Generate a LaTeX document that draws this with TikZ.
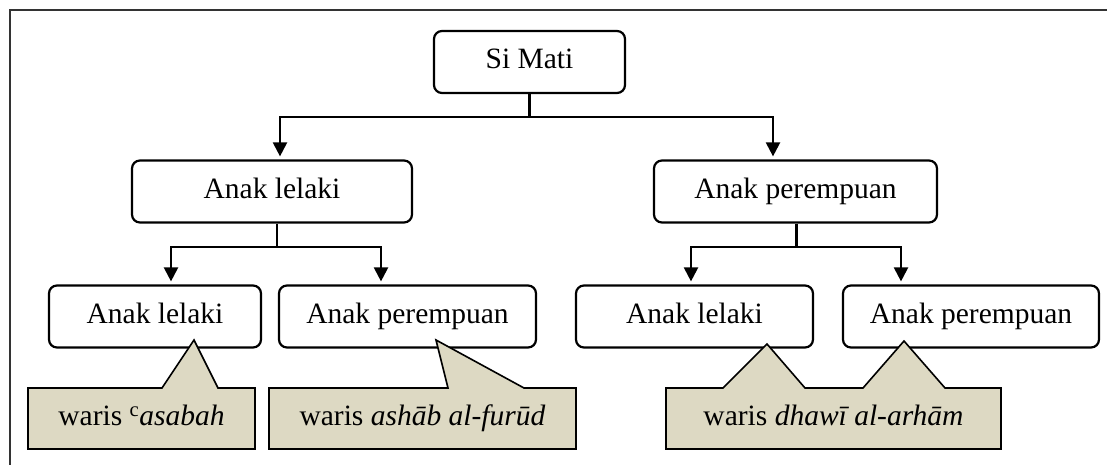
\documentclass[tikz,border=0pt]{standalone}
\usepackage{fontspec}
\setmainfont{Liberation Serif}
\usetikzlibrary{arrows.meta}
\definecolor{notefill}{HTML}{DDD9C3}

\begin{document}
\begin{tikzpicture}[x=1pt,y=-1pt,
    box/.style={draw, line width=2.2pt, rounded corners=8pt, minimum height=62pt, inner sep=0pt,
        text height=20pt, text depth=6pt, font=\fontsize{29.5}{33}\selectfont},
    conn/.style={line width=2.2pt},
    arr/.style={line width=2.2pt, -{Triangle[width=14pt,length=14pt]}, shorten >=3pt},
    note/.style={draw, line width=1.6pt, fill=notefill},
    notetext/.style={text height=20pt, text depth=6pt, font=\fontsize{29.5}{33}\selectfont}]
    \useasboundingbox (0,0) rectangle (1107,465);

    % frame
    \draw[line width=1.6pt, black!80] (10,465) -- (10,10) -- (1107,10);

    % boxes
    \node[box, minimum width=191pt] (simati) at (529.5,62) {Si Mati};
    \node[box, minimum width=280pt] (l2a) at (272,191.5) {Anak lelaki};
    \node[box, minimum width=283pt] (l2b) at (795.5,191.5) {Anak perempuan};
    \node[box, minimum width=212pt] (l3a) at (155,316.5) {Anak lelaki};
    \node[box, minimum width=257pt] (l3b) at (407.5,316.5) {Anak perempuan};
    \node[box, minimum width=237pt] (l3c) at (694.5,316.5) {Anak lelaki};
    \node[box, minimum width=256pt] (l3d) at (971,316.5) {Anak perempuan};

    % connectors
    \draw[conn] (simati.south) -- ++(0,23) coordinate (bus1);
    \draw[arr] (bus1) -| ([xshift=8pt]l2a.north);
    \draw[arr] (bus1) -| ([xshift=-22.5pt]l2b.north);

    \draw[conn] ([xshift=5pt]l2a.south) -- ++(0,23) coordinate (bus2);
    \draw[arr] (bus2) -| ([xshift=16pt]l3a.north);
    \draw[arr] (bus2) -| ([xshift=-26.5pt]l3b.north);

    \draw[conn] ([xshift=1pt]l2b.south) -- ++(0,23) coordinate (bus3);
    \draw[arr] (bus3) -| ([xshift=-3.5pt]l3c.north);
    \draw[arr] (bus3) -| ([xshift=-70pt]l3d.north);

    % callouts
    \draw[note] (28,388) -- (162,388) -- (194,340) -- (218,388) -- (255,388)
        -- (255,449) -- (28,449) -- cycle;
    \draw[note] (269,388) -- (448,388) -- (436,340) -- (524,388) -- (576,388)
        -- (576,449) -- (269,449) -- cycle;
    \draw[note] (666,388) -- (723,388) -- (767,344) -- (805,388) -- (863,388)
        -- (904,341) -- (945,388) -- (1001,388) -- (1001,449) -- (666,449) -- cycle;

    \node[notetext] (w1) at (141.5,418.5) {waris \textsuperscript{c}\textit{asabah}};
    \node[notetext] (w2) at (422.5,418.5) {waris \textit{ashāb al-furūd}};
    \node[notetext] (w3) at (833.5,418.5) {waris \textit{dhawī al-arhām}};
\end{tikzpicture}
\end{document}
